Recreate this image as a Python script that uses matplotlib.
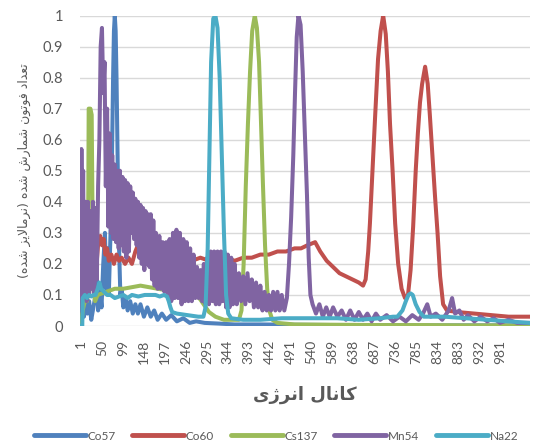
import matplotlib
matplotlib.use('Agg')
import matplotlib.pyplot as plt

plt.rcParams['font.family'] = ['Lato', 'DejaVu Sans']

# channel / normalised counts
co57_ch = [1, 4, 8, 12, 16, 20, 25, 30, 35, 38, 41, 45, 49, 53, 57, 60, 63, 66, 70, 73, 76, 78, 80, 82,
           84, 87, 90, 93, 96, 100, 105, 110, 116, 122, 128, 134, 140, 148, 156, 164, 172, 180, 190, 200,
           212, 225, 240, 255, 270, 290, 320, 360, 420, 500, 600, 700, 800, 900, 1000, 1049]
co57_val = [0.0, 0.09, 0.03, 0.1, 0.04, 0.08, 0.02, 0.06, 0.1, 0.16, 0.05, 0.12, 0.06, 0.2, 0.3, 0.12,
            0.25, 0.1, 0.3, 0.5, 0.8, 0.95, 1.0, 0.95, 0.8, 0.5, 0.25, 0.1, 0.12, 0.06, 0.09, 0.05, 0.08,
            0.04, 0.07, 0.04, 0.07, 0.03, 0.06, 0.03, 0.05, 0.02, 0.04, 0.02, 0.035, 0.015, 0.025, 0.01,
            0.015, 0.01, 0.008, 0.005, 0.005, 0.004, 0.003, 0.003, 0.002, 0.002, 0.002, 0.002]

co60_ch = [1, 3, 8, 14, 20, 26, 32, 38, 42, 46, 50, 54, 58, 62, 66, 72, 78, 84, 90, 96, 104, 112, 120,
           128, 134, 140, 150, 165, 180, 200, 220, 240, 260, 280, 300, 320, 340, 360, 380, 400, 420, 440,
           460, 480, 500, 515, 530, 548, 560, 575, 590, 605, 620, 635, 650, 660, 666, 672, 676, 682, 688,
           695, 701, 707, 713, 718, 723, 729, 735, 742, 750, 758, 765, 771, 777, 783, 788, 793, 798, 805,
           811, 816, 822, 828, 834, 840, 847, 856, 880, 920, 960, 1000, 1049]
co60_val = [0.0, 0.2, 0.22, 0.2, 0.22, 0.2, 0.22, 0.21, 0.28, 0.29, 0.26, 0.28, 0.23, 0.25, 0.21, 0.23,
            0.2, 0.23, 0.21, 0.22, 0.2, 0.22, 0.2, 0.24, 0.26, 0.22, 0.21, 0.23, 0.21, 0.22, 0.21, 0.22,
            0.21, 0.22, 0.21, 0.22, 0.22, 0.21, 0.22, 0.22, 0.23, 0.23, 0.24, 0.24, 0.25, 0.25, 0.26,
            0.27, 0.24, 0.21, 0.19, 0.17, 0.16, 0.15, 0.14, 0.13, 0.15, 0.24, 0.33, 0.5, 0.67, 0.86,
            0.95, 1.0, 0.94, 0.82, 0.65, 0.5, 0.33, 0.2, 0.12, 0.09, 0.1, 0.18, 0.32, 0.5, 0.62, 0.72,
            0.78, 0.835, 0.78, 0.68, 0.55, 0.42, 0.3, 0.16, 0.07, 0.05, 0.045, 0.04, 0.035, 0.03, 0.03]

cs137_ch = [1, 5, 10, 15, 17, 19, 23, 26, 28, 30, 34, 40, 60, 80, 100, 120, 140, 160, 180, 200, 220,
            240, 260, 270, 280, 290, 300, 315, 335, 355, 370, 376, 381, 386, 391, 396, 401, 407, 412,
            417, 421, 426, 431, 436, 441, 448, 460, 500, 600, 700, 800, 900, 1000, 1049]
cs137_val = [0.0, 0.05, 0.08, 0.08, 0.1, 0.7, 0.7, 0.68, 0.35, 0.12, 0.08, 0.1, 0.11, 0.12, 0.12,
             0.125, 0.13, 0.125, 0.12, 0.115, 0.11, 0.11, 0.105, 0.1, 0.085, 0.065, 0.045, 0.03, 0.02,
             0.02, 0.02, 0.05, 0.2, 0.45, 0.65, 0.82, 0.95, 1.0, 0.96, 0.85, 0.68, 0.46, 0.26, 0.12,
             0.05, 0.02, 0.01, 0.005, 0.004, 0.003, 0.003, 0.002, 0.002, 0.002]

# Mn54 is very noisy: top / bottom of the band alternate
mn54_pts = [(1, 0.05), (2, 0.57), (4, 0.12), (6, 0.5), (8, 0.1), (11, 0.4), (14, 0.08), (17, 0.4),
            (20, 0.1), (23, 0.37), (26, 0.12), (29, 0.4), (32, 0.1), (35, 0.38), (38, 0.15),
            (41, 0.45), (44, 0.6), (47, 0.9), (50, 0.96), (53, 0.75), (56, 0.85), (59, 0.45),
            (62, 0.7), (65, 0.32), (68, 0.62), (71, 0.3), (74, 0.55), (77, 0.28), (80, 0.52),
            (83, 0.27), (86, 0.5), (89, 0.25), (92, 0.5), (95, 0.26), (98, 0.48), (101, 0.24),
            (104, 0.47), (107, 0.22), (110, 0.46), (113, 0.24), (116, 0.45), (119, 0.3), (122, 0.43),
            (125, 0.28), (128, 0.41), (131, 0.26), (134, 0.4), (137, 0.22), (140, 0.39), (143, 0.2),
            (146, 0.38), (149, 0.18), (152, 0.37), (155, 0.2), (158, 0.36), (161, 0.19), (164, 0.36),
            (167, 0.15), (170, 0.34), (173, 0.13), (176, 0.3), (180, 0.12), (184, 0.29), (188, 0.12),
            (192, 0.27), (196, 0.11), (200, 0.27), (204, 0.1), (208, 0.28), (212, 0.08), (216, 0.3),
            (220, 0.09), (224, 0.31), (228, 0.09), (232, 0.3), (236, 0.07), (240, 0.28), (244, 0.08),
            (248, 0.27), (252, 0.08), (256, 0.25), (260, 0.08), (264, 0.23), (268, 0.09), (272, 0.19),
            (276, 0.09), (280, 0.18), (284, 0.08), (288, 0.2), (292, 0.07), (296, 0.22), (300, 0.07),
            (304, 0.24), (308, 0.08), (312, 0.24), (316, 0.07), (320, 0.24), (324, 0.07), (328, 0.24),
            (332, 0.08), (336, 0.24), (340, 0.06), (344, 0.23), (348, 0.06), (352, 0.22), (356, 0.07),
            (360, 0.2), (365, 0.07), (370, 0.17), (375, 0.08), (380, 0.16), (385, 0.07), (390, 0.17),
            (395, 0.08), (400, 0.15), (405, 0.06), (410, 0.14), (415, 0.06), (420, 0.13), (425, 0.05),
            (430, 0.11), (435, 0.05), (440, 0.1), (445, 0.05), (450, 0.11), (455, 0.05), (460, 0.11),
            (465, 0.05), (470, 0.1), (476, 0.05), (482, 0.09), (487, 0.2), (492, 0.35), (497, 0.55),
            (501, 0.75), (505, 0.93), (509, 1.0), (514, 0.97), (519, 0.82), (524, 0.62), (529, 0.42),
            (533, 0.22), (537, 0.1), (542, 0.07), (550, 0.04), (558, 0.07), (566, 0.03), (574, 0.06),
            (582, 0.03), (590, 0.06), (600, 0.03), (610, 0.05), (620, 0.02), (630, 0.05), (640, 0.02),
            (650, 0.045), (660, 0.02), (670, 0.04), (680, 0.015), (690, 0.04), (700, 0.02),
            (715, 0.035), (730, 0.015), (745, 0.03), (760, 0.015), (775, 0.035), (790, 0.02),
            (800, 0.04), (810, 0.07), (818, 0.03), (830, 0.04), (845, 0.02), (860, 0.05), (868, 0.09),
            (875, 0.04), (885, 0.05), (895, 0.02), (905, 0.035), (920, 0.015), (935, 0.03),
            (950, 0.015), (965, 0.025), (980, 0.01), (1000, 0.02), (1020, 0.01), (1049, 0.01)]
mn54_ch = [p[0] for p in mn54_pts]
mn54_val = [p[1] for p in mn54_pts]

na22_ch = [1, 4, 5, 10, 15, 20, 25, 30, 35, 40, 44, 48, 55, 62, 70, 80, 90, 100, 110, 120, 135, 150,
           165, 175, 185, 195, 202, 206, 210, 214, 225, 250, 275, 287, 292, 297, 301, 305, 310, 315,
           320, 325, 330, 335, 340, 345, 352, 380, 420, 470, 520, 560, 600, 650, 700, 730, 740, 752,
           760, 766, 771, 776, 783, 792, 802, 850, 900, 950, 1000, 1049]
na22_val = [0.0, 0.0, 0.09, 0.1, 0.09, 0.1, 0.095, 0.1, 0.1, 0.12, 0.14, 0.12, 0.11, 0.1, 0.1, 0.09,
            0.095, 0.1, 0.09, 0.1, 0.095, 0.1, 0.1, 0.1, 0.095, 0.1, 0.095, 0.08, 0.06, 0.045, 0.04,
            0.035, 0.03, 0.03, 0.06, 0.25, 0.55, 0.85, 0.99, 1.0, 0.96, 0.8, 0.55, 0.3, 0.1, 0.04,
            0.025, 0.02, 0.02, 0.025, 0.025, 0.025, 0.025, 0.02, 0.025, 0.03, 0.03, 0.05, 0.08, 0.1,
            0.105, 0.1, 0.07, 0.045, 0.03, 0.03, 0.025, 0.02, 0.015, 0.01]

series = [('Co57', co57_ch, co57_val, '#4F81BD'),
          ('Co60', co60_ch, co60_val, '#C0504D'),
          ('Cs137', cs137_ch, cs137_val, '#9BBB59'),
          ('Mn54', mn54_ch, mn54_val, '#8064A2'),
          ('Na22', na22_ch, na22_val, '#4BACC6')]

xtick_vals = [1, 50, 99, 148, 197, 246, 295, 344, 393, 442, 491, 540, 589, 638, 687, 736, 785, 834,
              883, 932, 981]
ytick_vals = [0, 0.1, 0.2, 0.3, 0.4, 0.5, 0.6, 0.7, 0.8, 0.9, 1]
ytick_labels = ['0', '0.1', '0.2', '0.3', '0.4', '0.5', '0.6', '0.7', '0.8', '0.9', '1']

xlabel_fa = 'کانال انرژی'
ylabel_fa = 'تعداد فوتون شمارش شده (نرمالایز شده)'

# arabic presentation forms: isolated, final, initial, medial
FORMS = {
    'ا': (0xFE8D, 0xFE8E, None, None),
    'ت': (0xFE95, 0xFE96, 0xFE97, 0xFE98),
    'د': (0xFEA9, 0xFEAA, None, None),
    'ر': (0xFEAD, 0xFEAE, None, None),
    'ز': (0xFEAF, 0xFEB0, None, None),
    'ش': (0xFEB5, 0xFEB6, 0xFEB7, 0xFEB8),
    'ع': (0xFEC9, 0xFECA, 0xFECB, 0xFECC),
    'ف': (0xFED1, 0xFED2, 0xFED3, 0xFED4),
    'ل': (0xFEDD, 0xFEDE, 0xFEDF, 0xFEE0),
    'م': (0xFEE1, 0xFEE2, 0xFEE3, 0xFEE4),
    'ن': (0xFEE5, 0xFEE6, 0xFEE7, 0xFEE8),
    'ه': (0xFEE9, 0xFEEA, 0xFEEB, 0xFEEC),
    'و': (0xFEED, 0xFEEE, None, None),
    'ژ': (0xFB8A, 0xFB8B, None, None),
    'ک': (0xFB8E, 0xFB8F, 0xFB90, 0xFB91),
    'ی': (0xFBFC, 0xFBFD, 0xFBFE, 0xFBFF),
}


def shape_fa(text):
    # join letters and flip to visual order, matplotlib has no bidi support
    res = []
    i = 0
    while i < len(text):
        c = text[i]
        if c not in FORMS:
            res.append(c)
            i += 1
            continue
        prev_j = i > 0 and text[i - 1] in FORMS and FORMS[text[i - 1]][2] is not None
        if c == 'ل' and i + 1 < len(text) and text[i + 1] == 'ا':
            res.append(chr(0xFEFC if prev_j else 0xFEFB))
            i += 2
            continue
        next_j = FORMS[c][2] is not None and i + 1 < len(text) and text[i + 1] in FORMS
        iso, fin, ini, med = FORMS[c]
        if prev_j and next_j:
            g = med
        elif prev_j:
            g = fin
        elif next_j:
            g = ini
        else:
            g = iso
        res.append(chr(g))
        i += 1
    return ''.join(reversed(res)).translate(str.maketrans('()', ')('))


fig = plt.figure(figsize=(5.34, 4.46), dpi=100)
ax = fig.add_axes([80 / 534, 120 / 446, 450 / 534, 310.5 / 446])

for name, ch, val, col in series:
    ax.plot(ch, val, color=col, lw=2.9, label=name, solid_joinstyle='round')

ax.set_xlim(-1.3, 1050)
ax.set_ylim(0, 1)
ax.set_xticks(xtick_vals)
ax.set_xticklabels([str(v) for v in xtick_vals], rotation=90, va='top')
ax.set_yticks(ytick_vals)
ax.set_yticklabels(ytick_labels)
ax.tick_params(axis='x', length=0, pad=10, labelsize=10, colors='#595959')
ax.tick_params(axis='y', length=0, pad=12, labelsize=10.5, colors='#595959')
ax.grid(axis='y', color='#d9d9d9', lw=1)
ax.set_axisbelow(True)
for s in ax.spines.values():
    s.set_visible(False)

fig.text(305 / 534, 1 - 395 / 446, shape_fa(xlabel_fa), ha='center', va='center',
         fontsize=13, fontweight='bold', color='#595959', family='DejaVu Sans')
fig.text(24 / 534, 1 - 171 / 446, shape_fa(ylabel_fa), ha='center', va='center', rotation=90,
         fontsize=9, color='#595959', family='DejaVu Sans')

leg = fig.legend(loc='center', bbox_to_anchor=(276 / 534, 1 - 436 / 446), ncol=5, frameon=False,
                 fontsize=8.5, handlelength=4.4, handletextpad=0.15, columnspacing=1.4,
                 labelcolor='#595959')
for h in leg.get_lines():
    h.set_linewidth(3.5)
    h.set_solid_capstyle('round')

fig.savefig('out.png', dpi=100)
